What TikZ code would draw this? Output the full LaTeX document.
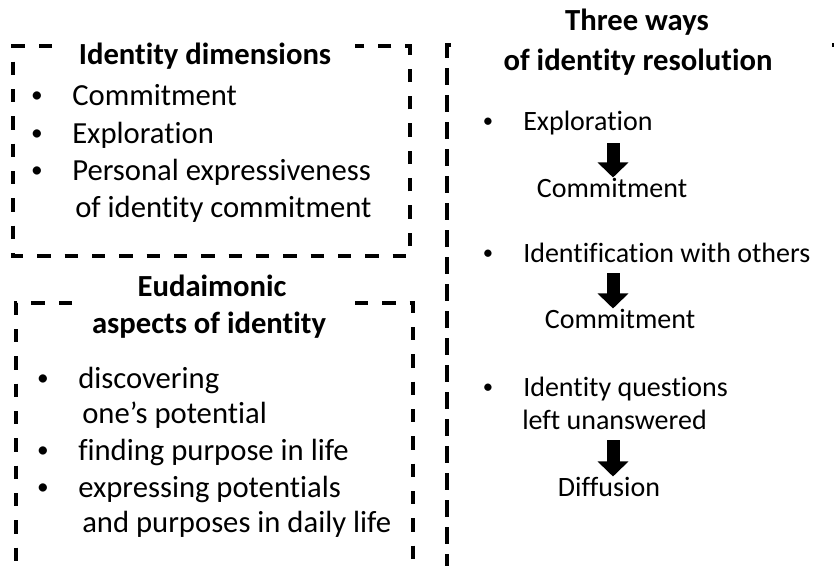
\documentclass[tikz,border=0pt]{standalone}
\usepackage{fontspec}
\setmainfont{Carlito}[Ligatures=CommonOff]
\usetikzlibrary{arrows.meta}
\tikzset{
  frame/.style={line width=2.6pt, dash pattern=on 10pt off 10.5pt},
  rframe/.style={line width=2.4pt, dash pattern=on 12.75pt off 7.5pt},
  lt/.style={inner sep=0pt, anchor=base west, font=\fontsize{23}{27}\selectfont},
  rt/.style={inner sep=0pt, anchor=base west, font=\fontsize{21}{25}\selectfont},
  rc/.style={inner sep=0pt, anchor=base, font=\fontsize{21}{25}\selectfont},
  ttl/.style={inner sep=0pt, anchor=base, font=\fontsize{23}{27}\selectfont\bfseries},
  lbul/.style={inner sep=0pt, anchor=base, font=\fontsize{17.5}{20}\selectfont},
  rbul/.style={inner sep=0pt, anchor=base, font=\fontsize{15.5}{18}\selectfont},
  blockarrow/.style={line width=9.75pt, -{Triangle[width=22.5pt,length=11.25pt]}},
}
\begin{document}
\begin{tikzpicture}[x=0.75pt,y=-0.75pt]
\useasboundingbox (0,0) rectangle (834,565);
\clip (0,0) rectangle (834,565);

% frames
\draw[frame] (52,46) -- (13,46) -- (13,256) -- (410,256) -- (410,46) -- (355,46);
\draw[frame] (72,303) -- (16,303) -- (16,580);
\draw[frame] (355,303) -- (413,303) -- (413,580);
\draw[rframe] (451,45) -- (447,45) -- (447,580);
\draw[rframe] (832,45) -- (840,45);

% box 1
\node[ttl] (t1) at (205,64) {Identity dimensions};
\node[lbul] (b11) at (37,102) {•};
\node[lt] (l11) at (72,105) {Commitment};
\node[lbul] (b12) at (37,140) {•};
\node[lt] (l12) at (72,143) {Exploration};
\node[lbul] (b13) at (37,177) {•};
\node[lt] (l13) at (72,180) {Personal expressiveness};
\node[lt] (l14) at (75,217) {of identity commitment};

% box 2
\node[ttl] (t21) at (212,296) {Eudaimonic};
\node[ttl] (t22) at (209,333) {aspects of identity};
\node[lbul] (b21) at (43,385) {•};
\node[lt] (l21) at (78,388) {discovering};
\node[lt] (l22) at (82,423) {one’s potential};
\node[lbul] (b23) at (43,457) {•};
\node[lt] (l23) at (78,460) {finding purpose in life};
\node[lbul] (b24) at (43,494) {•};
\node[lt] (l24) at (78,497) {expressing potentials};
\node[lt] (l25) at (82,532) {and purposes in daily life};

% right box
\node[ttl] (t31) at (637,30) {Three ways};
\node[ttl] (t32) at (638,70) {of identity resolution};
\node[rbul] (b31) at (488,127) {•};
\node[rt] (e1) at (523,130) {Exploration};
\node[rc] (c1) at (612,197) {Commitment};
\node[rbul] (b32) at (488,259) {•};
\node[rt] (i2) at (523,262) {Identification with others};
\node[rc] (c2) at (620,328) {Commitment};
\node[rbul] (b33) at (488,393) {•};
\node[rt] (q3) at (523,396) {Identity questions};
\node[rt] (q3b) at (522,429) {left unanswered};
\node[rc] (d3) at (609,496) {Diffusion};

\coordinate (ax) at (613,0);
\draw[blockarrow] (ax |- e1.base) ++(0,13) coordinate (a1s) -- (ax |- c1.north);
\draw[blockarrow] (ax |- i2.base) ++(0,11) coordinate (a2s) -- (ax |- c2.north);
\draw[blockarrow] (ax |- q3b.base) ++(0,11) coordinate (a3s) -- (ax |- d3.north);
\end{tikzpicture}
\end{document}
